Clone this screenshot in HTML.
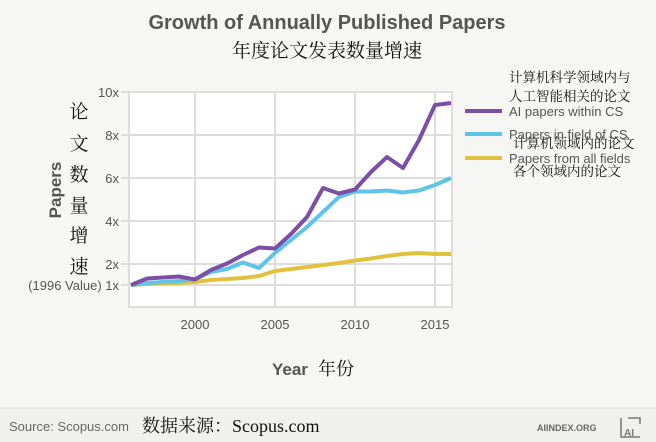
<!DOCTYPE html>
<html><head><meta charset="utf-8"><style>
body{margin:0;width:656px;height:442px;background:#f6f6f4;overflow:hidden;font-family:"Liberation Sans","Noto Sans CJK SC",sans-serif}
</style></head><body>
<svg width="656" height="442" xmlns="http://www.w3.org/2000/svg" style="position:absolute;left:0;top:0">
<rect x="0" y="0" width="656" height="442" fill="#f6f6f4"/>
<rect x="0" y="408" width="656" height="34" fill="#f0f0ee"/>
<line x1="0" y1="408" x2="656" y2="408" stroke="#e2e2e0"/>
<text x="327" y="29" text-anchor="middle" font-size="20" font-weight="bold" fill="#555">Growth of Annually Published Papers</text>
<text x="327" y="57" text-anchor="middle" font-size="19" fill="#111" font-family="Noto Serif CJK SC,serif">年度论文发表数量增速</text>
<rect x="129" y="92" width="323" height="215" fill="#fff" stroke="#ddd" stroke-width="2"/>
<g stroke="#ddd" stroke-width="2">
<line x1="121" y1="92" x2="452" y2="92"/><line x1="121" y1="135" x2="452" y2="135"/>
<line x1="121" y1="178" x2="452" y2="178"/><line x1="121" y1="221" x2="452" y2="221"/>
<line x1="121" y1="264" x2="452" y2="264"/><line x1="121" y1="285" x2="452" y2="285"/>
<line x1="195" y1="92" x2="195" y2="307"/><line x1="275" y1="92" x2="275" y2="307"/>
<line x1="355" y1="92" x2="355" y2="307"/><line x1="435" y1="92" x2="435" y2="307"/>
</g>
<g font-size="13" fill="#555" text-anchor="end">
<text x="119" y="97">10x</text><text x="119" y="140">8x</text><text x="119" y="183">6x</text>
<text x="119" y="226">4x</text><text x="119" y="269">2x</text><text x="119" y="290">(1996 Value) 1x</text>
</g>
<g font-size="13" fill="#555" text-anchor="middle">
<text x="195" y="329">2000</text><text x="275" y="329">2005</text><text x="355" y="329">2010</text><text x="435" y="329">2015</text>
</g>
<text transform="translate(61,190) rotate(-90)" text-anchor="middle" font-size="17" font-weight="bold" fill="#555">Papers</text>
<g font-size="19" fill="#111" text-anchor="middle" font-family="Noto Serif CJK SC,serif">
<text x="79" y="118">论</text><text x="79" y="150">文</text><text x="79" y="181">数</text><text x="79" y="212">量</text><text x="79" y="242">增</text><text x="79" y="273">速</text>
</g>
<text x="272" y="375" font-size="17" font-weight="bold" fill="#555">Year</text>
<text x="318" y="375" font-size="18" fill="#111" font-family="Noto Serif CJK SC,serif">年份</text>
<g fill="none" stroke-width="4" stroke-linejoin="round">
<polyline stroke="#e0c23f" points="131,285 147,284 163,283.5 179,283 195,282 211,280 227,279 243,278 259,276 275,271 291,269 307,267 323,265 339,263 355,260.5 371,258.5 387,256 403,254 419,253 435,254 451,254"/>
<polyline stroke="#5ec4e8" points="131,285 147,283 163,282 179,281 195,279 211,272 227,269 243,262.5 259,268 275,253 291,240 307,227 323,212 339,197 355,191.5 371,191.5 387,190.5 403,192.5 419,190.5 435,185 451,178"/>
<polyline stroke="#7b4fa6" points="131,285 147,278.5 163,277.5 179,276.5 195,279.5 211,270 227,263.5 243,255 259,247.5 275,248.5 291,234 307,217 323,188 339,193.5 355,189.5 371,172 387,157 403,168 419,140 435,105 451,103"/>
</g>
<g font-family="Noto Serif CJK SC,serif" font-size="13.5" fill="#111">
<text x="509" y="82">计算机科学领域内与</text>
<text x="509" y="101">人工智能相关的论文</text>
<text x="513" y="148">计算机领域内的论文</text>
<text x="513" y="176">各个领域内的论文</text>
</g>
<g stroke-width="4">
<line x1="465" y1="111" x2="502" y2="111" stroke="#7b4fa6"/>
<line x1="465" y1="134" x2="502" y2="134" stroke="#5ec4e8"/>
<line x1="465" y1="158" x2="502" y2="158" stroke="#e0c23f"/>
</g>
<g font-size="13" fill="#555">
<text x="509" y="116">AI papers within CS</text>
<text x="509" y="139">Papers in field of CS</text>
<text x="509" y="163">Papers from all fields</text>
</g>
<text x="9" y="431" font-size="13" fill="#666">Source: Scopus.com</text>
<text x="142" y="432" font-size="18" fill="#111" font-family="Liberation Serif,Noto Serif CJK SC,serif">数据来源：Scopus.com</text>
<text x="537" y="431" font-size="9" font-weight="bold" fill="#666">AIINDEX.ORG</text>
<path d="M621 418 L621 437 L640 437 M628 418 L640 418 L640 424" fill="none" stroke="#777" stroke-width="1.5"/>
<text x="624" y="436" font-size="10" font-weight="bold" fill="#777">AI</text>
</svg>
</body></html>
